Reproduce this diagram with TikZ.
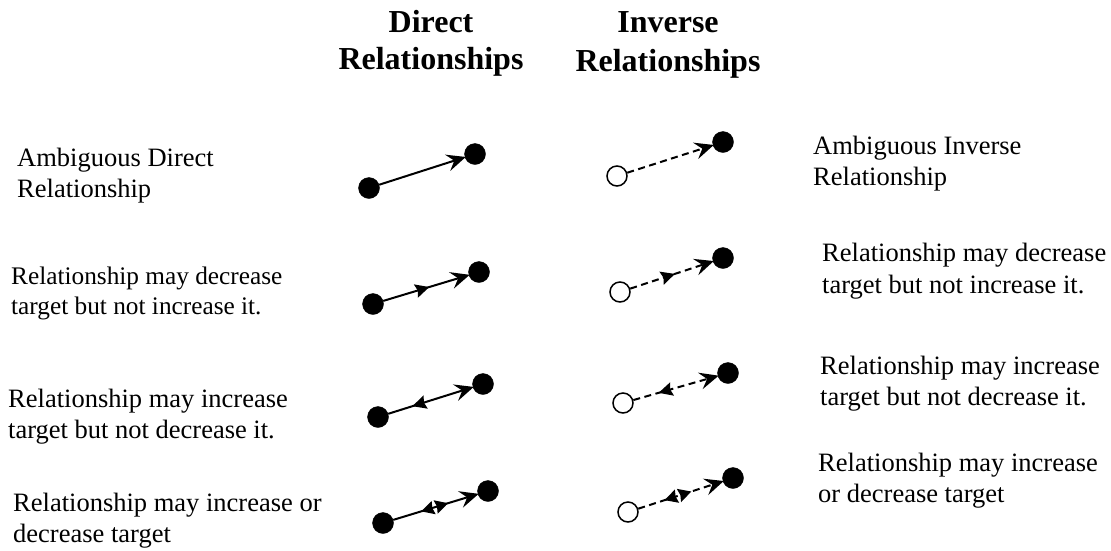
\documentclass[tikz,border=0pt]{standalone}
\usepackage{fontspec}
\setmainfont{Liberation Serif}
\usetikzlibrary{arrows.meta,decorations.markings}

% small solid triangles laid along a connector (local frame: x along the path)
\newcommand{\fwdhead}{\fill (7pt,0pt) -- (-7pt,7pt) -- (-5pt,0pt) -- (-7pt,-7pt) -- cycle;}
\newcommand{\bwdhead}{\fill (-7pt,0pt) -- (7pt,7pt) -- (5pt,0pt) -- (7pt,-7pt) -- cycle;}
\newcommand{\pairhead}{%
  \fill (-14pt,0pt) -- (-1pt,7pt) -- (-2.5pt,0pt) -- (-1pt,-7pt) -- cycle;
  \fill (14pt,0pt) -- (1pt,7pt) -- (2.5pt,0pt) -- (1pt,-7pt) -- cycle;}

\tikzset{
  full/.style={circle, fill=black, draw=black, minimum size=21pt, inner sep=0pt},
  hollow/.style={circle, fill=white, draw=black, line width=1.5pt, minimum size=20pt, inner sep=0pt},
  link/.style={line width=2pt, -{Stealth[length=19pt,width=17pt,inset=7pt]}, shorten >=-1pt},
  inv/.style={link, dash pattern=on 7pt off 4.5pt},
  fwd/.style={postaction={decorate, decoration={markings,
     mark=at position #1 with {\fwdhead}}}},
  bwd/.style={postaction={decorate, decoration={markings,
     mark=at position #1 with {\bwdhead}}}},
  both/.style={postaction={decorate, decoration={markings,
     mark=at position #1 with {\pairhead}}}},
  label/.style={anchor=north west, inner sep=0pt, align=left,
     font=\fontsize{26.5}{30.5}\selectfont},
  head/.style={anchor=north, inner sep=0pt, align=center}
}

\begin{document}
\begin{tikzpicture}[x=1pt, y=-1pt]
\useasboundingbox (0,0) rectangle (1111,550);

% column headings
\node[head, font=\fontsize{32}{37}\selectfont\bfseries] (hd) at (431,10) {Direct\\Relationships};
\node[head, font=\fontsize{32}{39}\selectfont\bfseries] (hi) at (668,11) {Inverse\\Relationships};

% left-hand descriptions
\node[label] (l1) at (17,148) {Ambiguous Direct\\Relationship};
\node[label, font=\fontsize{25.3}{30}\selectfont] (l2) at (11,267) {Relationship may decrease\\target but not increase it.};
\node[label] (l3) at (8,389) {Relationship may increase\\target but not decrease it.};
\node[label] (l4) at (13,493) {Relationship may increase or\\decrease target};

% right-hand descriptions
\node[label] (r1) at (813,136) {Ambiguous Inverse\\Relationship};
\node[label, font=\fontsize{26.5}{32}\selectfont] (r2) at (822,243) {Relationship may decrease\\target but not increase it.};
\node[label] (r3) at (820,356) {Relationship may increase\\target but not decrease it.};
\node[label] (r4) at (818,453) {Relationship may increase\\or decrease target};

% direct relationships
\node[full] (ds1) at (369,188) {};
\node[full] (dt1) at (475,154) {};
\node[full] (ds2) at (373,304) {};
\node[full] (dt2) at (479,272) {};
\node[full] (ds3) at (378,417) {};
\node[full] (dt3) at (483,384) {};
\node[full] (ds4) at (383,523) {};
\node[full] (dt4) at (488,491) {};

\draw[link] (ds1) -- (dt1);
\draw[link, fwd=0.46] (ds2) -- (dt2);
\draw[link, bwd=0.365] (ds3) -- (dt3);
\draw[link, both=0.49] (ds4) -- (dt4);

% inverse relationships
\node[hollow] (is1) at (617,176) {};
\node[full]   (it1) at (723,142) {};
\node[hollow] (is2) at (620,292) {};
\node[full]   (it2) at (723,258) {};
\node[hollow] (is3) at (623,403) {};
\node[full]   (it3) at (728,373) {};
\node[hollow] (is4) at (628,512) {};
\node[full]   (it4) at (733,478) {};

\draw[inv] (is1) -- (it1);
\draw[inv, fwd=0.46] (is2) -- (it2);
\draw[inv, bwd=0.38] (is3) -- (it3);
\draw[inv, both=0.47] (is4) -- (it4);
\end{tikzpicture}
\end{document}
